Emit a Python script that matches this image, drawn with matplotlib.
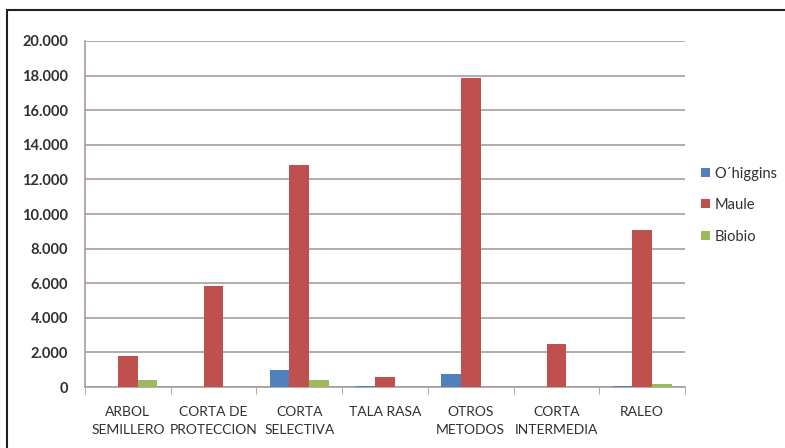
import numpy as np
import matplotlib.pyplot as plt
from matplotlib.patches import Rectangle
from matplotlib.ticker import FuncFormatter

plt.rcParams["font.family"] = ["Lato", "DejaVu Sans"]

# Superficie por método de corta y región
categorias = ["ARBOL\nSEMILLERO", "CORTA DE\nPROTECCION", "CORTA\nSELECTIVA",
              "TALA RASA", "OTROS\nMETODOS", "CORTA\nINTERMEDIA", "RALEO"]
ohiggins = [0, 0, 1000, 80, 750, 0, 70]
maule = [1800, 5850, 12850, 600, 17850, 2500, 9100]
biobio = [400, 0, 400, 0, 0, 0, 200]

series = [("O\u00b4higgins", ohiggins, "#4F81BD"),
          ("Maule", maule, "#C0504D"),
          ("Biobio", biobio, "#9BBB59")]

fig = plt.figure(figsize=(7.85, 4.48), dpi=100)
ax = fig.add_axes([85 / 785, 1 - 387 / 448, 600 / 785, 346 / 448])

x = np.arange(len(categorias))
w = 0.23
for i, (nombre, vals, color) in enumerate(series):
    ax.bar(x + (i - 1) * w, vals, width=w, color=color, label=nombre, zorder=3)

ax.set_xlim(-0.5, len(categorias) - 0.5)
ax.set_ylim(0, 20000)
ax.set_yticks(np.arange(0, 20001, 2000))
ax.yaxis.set_major_formatter(FuncFormatter(lambda v, p: f"{int(v):,}".replace(",", ".")))
ax.grid(axis="y", color="#A89C9C", linewidth=1.2, zorder=0)

ax.set_xticks(x)
ax.set_xticklabels(categorias, fontsize=10, color="#303030", linespacing=1.55)
ax.set_xticks(np.arange(-0.5, len(categorias)), minor=True)
ax.tick_params(axis="x", which="major", length=0, pad=14)
ax.tick_params(axis="x", which="minor", length=5, color="#A89C9C", direction="out")
ax.tick_params(axis="y", length=0, pad=12, labelsize=10.5, labelcolor="#303030")
for lab in ax.get_yticklabels():
    lab.set_fontweight("bold")

for s in ["top", "right"]:
    ax.spines[s].set_visible(False)
for s in ["left", "bottom"]:
    ax.spines[s].set_color("#A89C9C")
    ax.spines[s].set_linewidth(1.2)

leg = fig.legend(loc="center left", bbox_to_anchor=(688 / 785, 1 - 205 / 448),
                 frameon=False, fontsize=10.5, handlelength=0.6, handleheight=0.6,
                 handletextpad=0.3, labelspacing=1.2)
for t in leg.get_texts():
    t.set_color("#303030")

# marco exterior
fig.add_artist(Rectangle((7 / 785, -0.2), 1.2, 1.2 - 10 / 448,
                         transform=fig.transFigure, fill=False,
                         edgecolor="#202020", linewidth=1.5))

fig.savefig("out.png", dpi=100)
